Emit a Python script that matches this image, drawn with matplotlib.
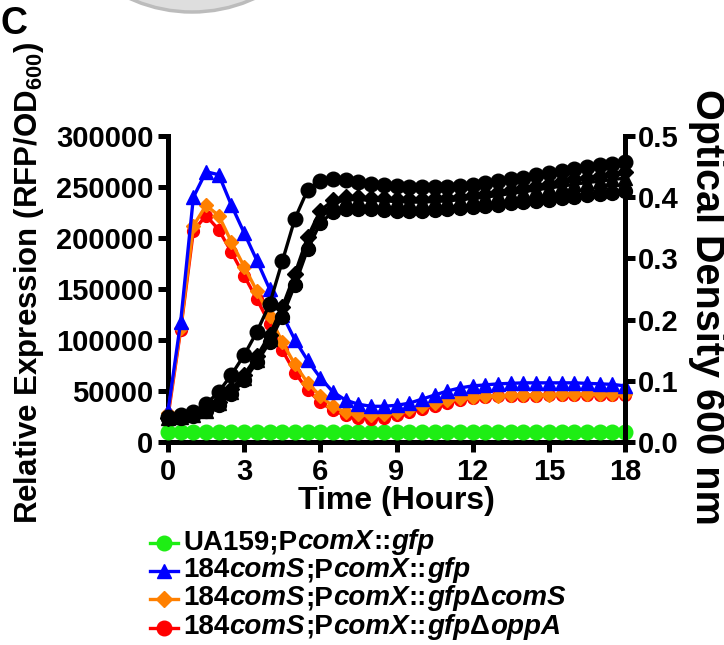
import matplotlib
matplotlib.use("Agg")
import matplotlib.pyplot as plt
from matplotlib.lines import Line2D
from matplotlib.patches import Ellipse
from matplotlib.offsetbox import HPacker, TextArea, DrawingArea, AnchoredOffsetbox
from matplotlib.ticker import FormatStrFormatter

plt.rcParams['font.family'] = ['Liberation Sans', 'DejaVu Sans']
plt.rcParams['font.weight'] = 'bold'
plt.rcParams['mathtext.fontset'] = 'custom'
plt.rcParams['mathtext.rm'] = 'Liberation Sans:bold'
plt.rcParams['mathtext.it'] = 'Liberation Sans:bold:italic'
plt.rcParams['mathtext.bf'] = 'Liberation Sans:bold'

# ---------------- data ----------------
hours = [0, 0.5, 1, 1.5, 2, 2.5, 3, 3.5, 4, 4.5, 5, 5.5, 6, 6.5, 7, 7.5, 8, 8.5,
         9, 9.5, 10, 10.5, 11, 11.5, 12, 12.5, 13, 13.5, 14, 14.5, 15, 15.5,
         16, 16.5, 17, 17.5, 18]

ua159_rfp = [10000, 10000, 10100, 10000, 9900, 10000, 10000, 10000, 10000, 10000,
             10000, 10000, 10000, 10000, 10000, 10000, 10000, 10000, 10000, 10000,
             10000, 10000, 10000, 10000, 10000, 10000, 10000, 10000, 10000, 10000,
             10000, 10000, 10000, 10000, 10000, 10000, 10000]

comS_rfp = [30000, 118000, 240000, 265000, 262000, 232000, 205000, 178000, 150000,
            125000, 100000, 80000, 63000, 49000, 41000, 37000, 35000, 35000, 36000,
            38000, 42000, 46000, 50000, 53000, 55000, 56000, 57000, 57500, 58000,
            58000, 58000, 58000, 58000, 57500, 57000, 56500, 55000]

dcomS_rfp = [28000, 112000, 212000, 232000, 222000, 196000, 172000, 148000, 124000,
             98000, 76000, 58000, 45000, 35000, 29000, 27000, 26000, 27000, 29000,
             32000, 35000, 38000, 41000, 43000, 44000, 45000, 45500, 46000, 46000,
             46500, 46500, 47000, 47000, 47000, 47000, 47000, 47000]

doppA_rfp = [25000, 110000, 207000, 222000, 208000, 186000, 163000, 140000, 116000,
             90000, 68000, 51000, 39000, 31000, 26000, 24000, 23000, 24000, 26000,
             29000, 32000, 35000, 38000, 41000, 43000, 44000, 45000, 45000, 45500,
             45500, 46000, 46000, 46000, 46000, 46000, 46000, 46000]

od_a = [0.041, 0.044, 0.049, 0.062, 0.082, 0.110, 0.142, 0.180, 0.225, 0.295, 0.365,
        0.412, 0.427, 0.430, 0.428, 0.425, 0.422, 0.420, 0.418, 0.417, 0.416, 0.416,
        0.417, 0.418, 0.420, 0.423, 0.426, 0.429, 0.432, 0.436, 0.440, 0.443, 0.446,
        0.449, 0.452, 0.455, 0.458]
od_b = [0.040, 0.042, 0.045, 0.053, 0.066, 0.086, 0.110, 0.140, 0.175, 0.220, 0.275,
        0.335, 0.378, 0.395, 0.400, 0.400, 0.399, 0.398, 0.397, 0.397, 0.397, 0.398,
        0.399, 0.401, 0.403, 0.406, 0.409, 0.412, 0.415, 0.419, 0.422, 0.426, 0.429,
        0.432, 0.435, 0.438, 0.441]
od_c = [0.040, 0.041, 0.044, 0.051, 0.063, 0.082, 0.105, 0.134, 0.168, 0.212, 0.265,
        0.325, 0.370, 0.390, 0.396, 0.396, 0.395, 0.394, 0.393, 0.392, 0.392, 0.393,
        0.394, 0.396, 0.398, 0.400, 0.403, 0.406, 0.409, 0.412, 0.415, 0.418, 0.421,
        0.424, 0.426, 0.429, 0.431]
od_d = [0.039, 0.040, 0.043, 0.050, 0.061, 0.079, 0.101, 0.130, 0.163, 0.205, 0.257,
        0.315, 0.358, 0.376, 0.381, 0.381, 0.380, 0.379, 0.378, 0.378, 0.378, 0.379,
        0.380, 0.382, 0.384, 0.386, 0.388, 0.390, 0.392, 0.394, 0.396, 0.398, 0.401,
        0.403, 0.405, 0.407, 0.410]

x_ticks = [0, 3, 6, 9, 12, 15, 18]
left_ticks = [0, 50000, 100000, 150000, 200000, 250000, 300000]
right_ticks = [0.0, 0.1, 0.2, 0.3, 0.4, 0.5]

legend_rows = [
    ('#1EEE14', 'o', [('UA159;P', 'normal'), ('comX', 'italic'), ('::', 'normal'), ('gfp', 'italic')]),
    ('#0000FF', '^', [('184', 'normal'), ('comS', 'italic'), (';P', 'normal'), ('comX', 'italic'),
                      ('::', 'normal'), ('gfp', 'italic')]),
    ('#FF8000', 'D', [('184', 'normal'), ('comS', 'italic'), (';P', 'normal'), ('comX', 'italic'),
                      ('::', 'normal'), ('gfp', 'italic'), ('Δ', 'normal'), ('comS', 'italic')]),
    ('#FF0000', 'o', [('184', 'normal'), ('comS', 'italic'), (';P', 'normal'), ('comX', 'italic'),
                      ('::', 'normal'), ('gfp', 'italic'), ('Δ', 'normal'), ('oppA', 'italic')]),
]

# ---------------- figure ----------------
W, H = 724, 645
fig = plt.figure(figsize=(W / 100, H / 100), dpi=100)
ax = fig.add_axes([168 / W, 1 - 442 / H, (625 - 168) / W, (442 - 136) / H])
ax2 = ax.twinx()

# decorative grey disc at top (part of previous panel)
fig.add_artist(Ellipse((192 / W, 1 + 138 / H), 300 / W, 300 / H, transform=fig.transFigure,
                       facecolor='#dedede', edgecolor='#bcbcbc', lw=2.5, zorder=0))

lw_data = 2.4
ax.plot(hours, ua159_rfp, color=legend_rows[0][0], marker='o', ms=10.5, lw=lw_data, clip_on=False, zorder=3)
ax.plot(hours, doppA_rfp, color='#FF0000', marker='o', ms=8.5, lw=lw_data, clip_on=False, zorder=4)
ax.plot(hours, dcomS_rfp, color='#FF8000', marker='D', ms=7.5, lw=lw_data, clip_on=False, zorder=5)
ax.plot(hours, comS_rfp, color='#0000FF', marker='^', ms=10, lw=lw_data, clip_on=False, zorder=6)

for series, mk, ms in [(od_d, 'o', 10), (od_c, '^', 10), (od_b, 'D', 8), (od_a, 'o', 10.5)]:
    ax2.plot(hours, series, color='black', marker=mk, ms=ms, lw=2.4, mec='black',
             clip_on=False)

ax.set_xlim(0, 18)
ax.set_ylim(0, 300000)
ax2.set_ylim(0, 0.5)
ax.set_xticks(x_ticks)
ax.set_yticks(left_ticks)
ax2.set_yticks(right_ticks)
ax2.yaxis.set_major_formatter(FormatStrFormatter('%.1f'))

spine_lw = 3.6
for a in (ax, ax2):
    for s in a.spines.values():
        s.set_linewidth(spine_lw)
    a.spines['top'].set_visible(False)
ax.spines['right'].set_visible(False)
ax2.spines['left'].set_visible(False)
ax2.spines['bottom'].set_visible(False)

tick_fs = 21
ax.tick_params(axis='both', which='major', direction='out', length=7.5, width=spine_lw,
               labelsize=tick_fs, pad=3)
ax.tick_params(axis='x', pad=4)
ax2.tick_params(axis='y', direction='out', length=7, width=spine_lw, labelsize=tick_fs, pad=2)

ax.set_xlabel('Time (Hours)', fontsize=23, fontweight='bold', labelpad=0)

fig.text(12 / W, 1 - 283 / H, r'Relative Expression (RFP/OD$_{\mathrm{600}}$)',
         rotation=90, ha='left', va='center', fontsize=22.5, fontweight='bold')
fig.text(688 / W, 1 - 307 / H, 'Optical Density 600 nm', rotation=270, ha='left',
         va='center', fontsize=28.5, fontweight='bold')
fig.text(0 / W, 1 - 24 / H, 'C', ha='left', va='center', fontsize=27, fontweight='bold')

# ---------------- legend ----------------
leg_fs = 20
row_y = [542, 570, 598, 627]
for (color, mk, pieces), yc in zip(legend_rows, row_y):
    da = DrawingArea(20, 14, 0, 0)
    da.add_artist(Line2D([0, 20], [6, 6], color=color, lw=2.4))
    da.add_artist(Line2D([10], [6], color=color, marker=mk, ms=10.5 if mk != 'D' else 8.5, lw=0))
    texts = [TextArea(t, textprops=dict(fontsize=leg_fs, fontweight='bold', fontstyle=st,
                                        color='black'))
             for t, st in pieces]
    box = HPacker(children=texts, sep=0, pad=0, align='baseline')
    row = HPacker(children=[da, box], sep=4, pad=0, align='center')
    anch = AnchoredOffsetbox(loc='center left', child=row, pad=0, borderpad=0, frameon=False,
                             bbox_to_anchor=(150 / W, 1 - yc / H), bbox_transform=fig.transFigure)
    fig.add_artist(anch)

fig.savefig('out.png', dpi=100)
